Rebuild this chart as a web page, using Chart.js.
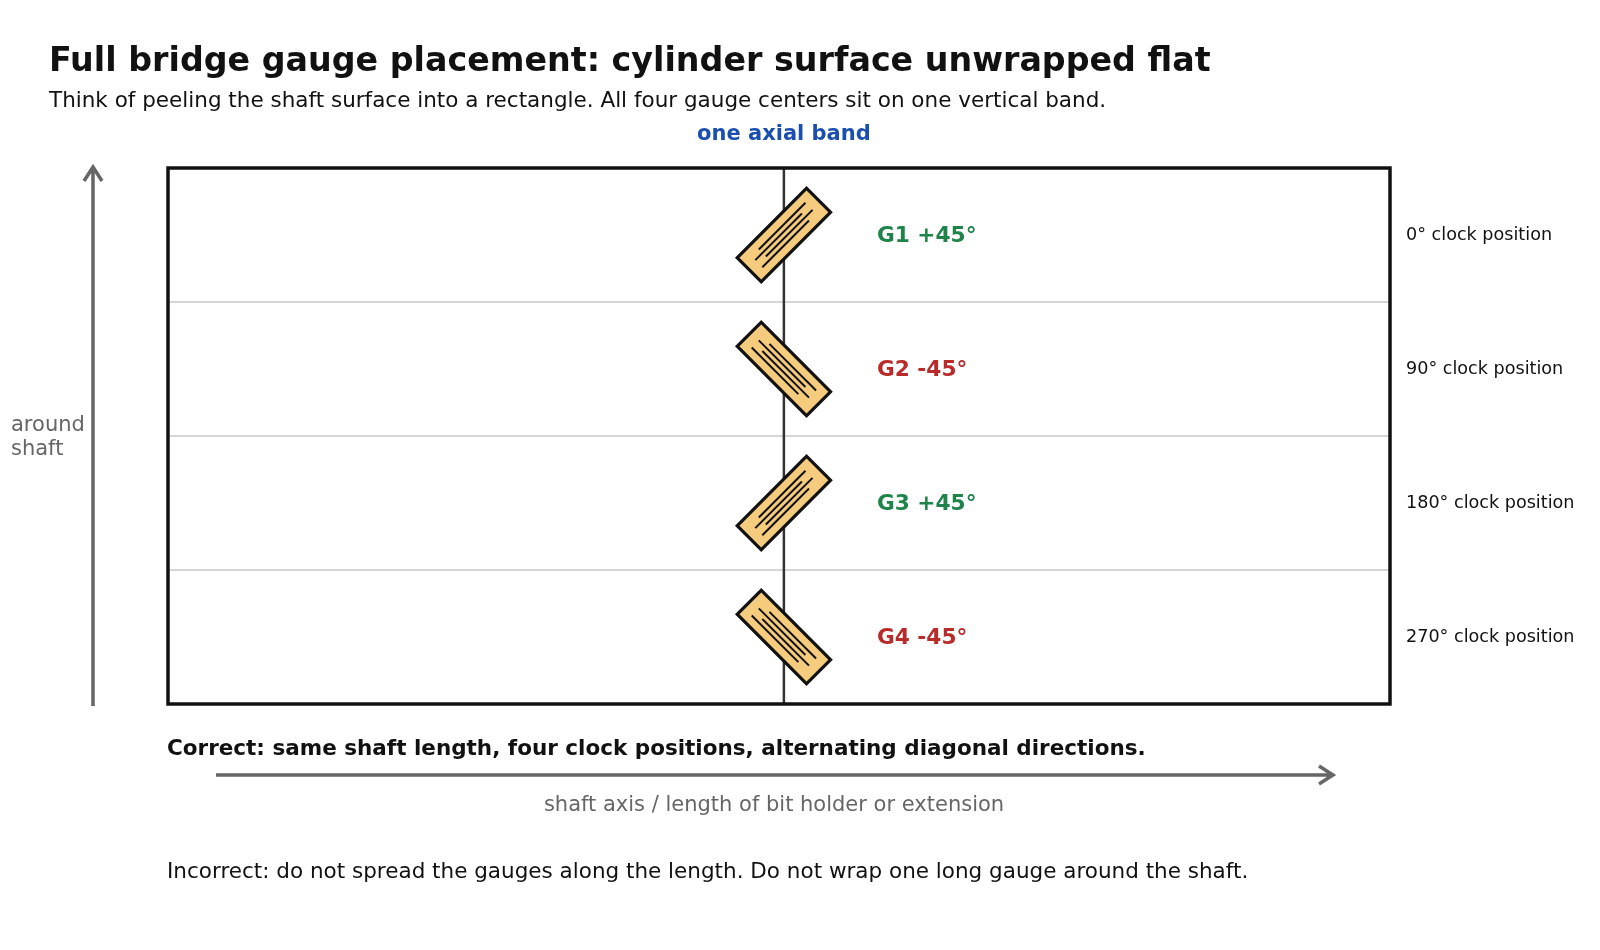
<!DOCTYPE html>
<html>
<head>
<meta charset="utf-8">
<script src="https://cdn.jsdelivr.net/npm/chart.js@4"></script>
<style>
  html, body { margin: 0; padding: 0; background: #fff; }
  #wrap { width: 1600px; height: 950px; }
</style>
</head>
<body>
<div id="wrap"><canvas id="chart"></canvas></div>
<script>
// data
const gaugeNames = ["G1 +45°", "G2 -45°", "G3 +45°", "G4 -45°"];
const gaugeAngles = [45, -45, 45, -45];
const gaugeRows = [3.5, 2.5, 1.5, 0.5];
const clockLabels = ["0° clock position", "90° clock position", "180° clock position", "270° clock position"];
const bandPosition = 50.4;
const rowLines = [1, 2, 3];

const FONT = "'DejaVu Sans', sans-serif";

/* Draws the unwrapped rectangle, band, gauges and all annotation text. */
const diagramPlugin = {
    id: "diagram",
    afterDatasetsDraw(chart) {
        const ctx = chart.ctx;
        const xs = chart.scales.x;
        const ys = chart.scales.y;
        const a = chart.chartArea;
        ctx.save();

        // row separators
        ctx.strokeStyle = "#c8c8c8";
        ctx.lineWidth = 1.5;
        rowLines.forEach((v) => {
            const y = ys.getPixelForValue(v);
            ctx.beginPath();
            ctx.moveTo(a.left, y);
            ctx.lineTo(a.right, y);
            ctx.stroke();
        });

        // axial band line
        const bx = xs.getPixelForValue(bandPosition);
        ctx.strokeStyle = "#333";
        ctx.lineWidth = 2.5;
        ctx.beginPath();
        ctx.moveTo(bx, a.top);
        ctx.lineTo(bx, a.bottom);
        ctx.stroke();

        // outer frame
        ctx.strokeStyle = "#111";
        ctx.lineWidth = 3.5;
        ctx.strokeRect(a.left, a.top, a.right - a.left, a.bottom - a.top);

        // gauges
        const meta = chart.getDatasetMeta(0);
        meta.data.forEach((pt, i) => {
            ctx.save();
            ctx.translate(pt.x, pt.y);
            ctx.rotate(-gaugeAngles[i] * Math.PI / 180);
            ctx.fillStyle = "#F5CB7E";
            ctx.strokeStyle = "#111";
            ctx.lineWidth = 3.2;
            ctx.fillRect(-49, -17, 98, 34);
            ctx.strokeRect(-49, -17, 98, 34);
            ctx.lineWidth = 2;
            [-7.5, -2.5, 2.5, 7.5].forEach((o, k) => {
                const s = k % 2 === 0 ? 5 : -5;
                ctx.beginPath();
                ctx.moveTo(-33 + s, o);
                ctx.lineTo(33 + s, o);
                ctx.stroke();
            });
            ctx.restore();

            ctx.textBaseline = "middle";
            ctx.textAlign = "left";
            ctx.font = "bold 21.7px " + FONT;
            ctx.fillStyle = gaugeAngles[i] > 0 ? "#1e8449" : "#b92a2a";
            ctx.fillText(gaugeNames[i], pt.x + 93, pt.y + 1);
            ctx.font = "17.6px " + FONT;
            ctx.fillStyle = "#111";
            ctx.fillText(clockLabels[i], a.right + 16, pt.y);
        });

        // titles
        ctx.textBaseline = "alphabetic";
        ctx.textAlign = "left";
        ctx.fillStyle = "#111";
        ctx.font = "bold 33.3px " + FONT;
        ctx.fillText("Full bridge gauge placement: cylinder surface unwrapped flat", 49, 71);
        ctx.font = "21.5px " + FONT;
        ctx.fillText("Think of peeling the shaft surface into a rectangle. All four gauge centers sit on one vertical band.", 49, 107);

        ctx.textAlign = "center";
        ctx.fillStyle = "#1a4fb0";
        ctx.font = "bold 21px " + FONT;
        ctx.fillText("one axial band", bx, 140);

        // around shaft arrow
        ctx.strokeStyle = "#666";
        ctx.fillStyle = "#666";
        ctx.lineWidth = 3.5;
        ctx.beginPath();
        ctx.moveTo(93, a.bottom + 2);
        ctx.lineTo(93, a.top);
        ctx.moveTo(84, 181);
        ctx.lineTo(93, 167);
        ctx.lineTo(102, 181);
        ctx.stroke();
        ctx.textAlign = "left";
        ctx.font = "21px " + FONT;
        ctx.fillText("around", 11, 431);
        ctx.fillText("shaft", 11, 455);

        // shaft axis arrow
        ctx.beginPath();
        ctx.moveTo(216, 775);
        ctx.lineTo(1333, 775);
        ctx.moveTo(1319, 766);
        ctx.lineTo(1333, 775);
        ctx.lineTo(1319, 784);
        ctx.stroke();
        ctx.textAlign = "center";
        ctx.fillText("shaft axis / length of bit holder or extension", 774, 811);

        ctx.textAlign = "left";
        ctx.fillStyle = "#111";
        ctx.font = "bold 21.5px " + FONT;
        ctx.fillText("Correct: same shaft length, four clock positions, alternating diagonal directions.", 167, 755);
        ctx.font = "21.5px " + FONT;
        ctx.fillText("Incorrect: do not spread the gauges along the length. Do not wrap one long gauge around the shaft.", 167, 878);

        ctx.restore();
    },
};

new Chart(document.getElementById("chart"), {
    type: "scatter",
    data: {
        datasets: [{
            data: gaugeRows.map((y) => ({ x: bandPosition, y: y })),
            pointRadius: 0,
        }],
    },
    options: {
        responsive: true,
        maintainAspectRatio: false,
        animation: false,
        layout: { padding: { left: 168, top: 168, right: 210, bottom: 246 } },
        plugins: { legend: { display: false }, tooltip: { enabled: false } },
        scales: {
            x: { display: false, min: 0, max: 100 },
            y: { display: false, min: 0, max: 4 },
        },
    },
    plugins: [diagramPlugin],
});
</script>
</body>
</html>
